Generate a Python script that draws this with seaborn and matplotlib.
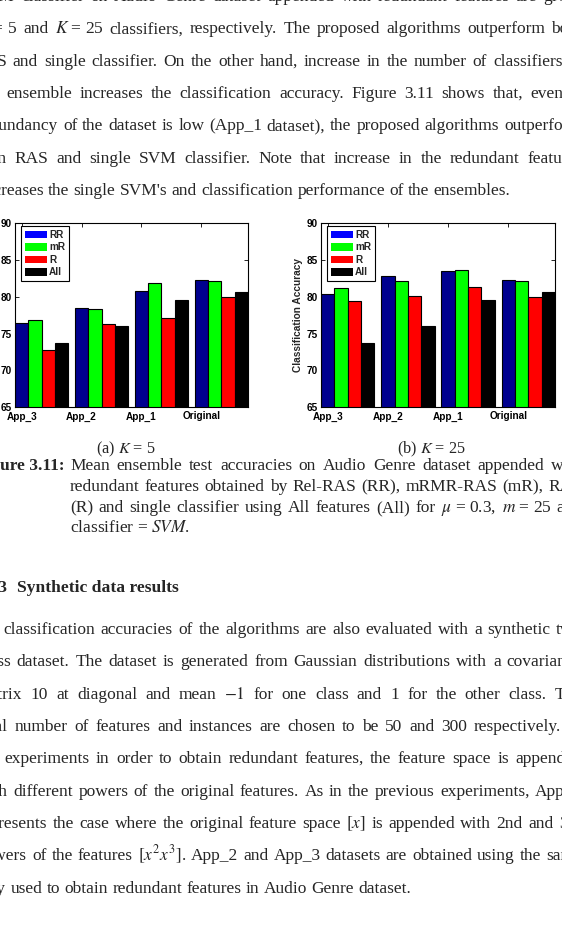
"""Figure 3.11 page crop: mean ensemble accuracies on Audio Genre (K=5 / K=25)."""

import pandas as pd
import matplotlib
matplotlib.use("Agg")
import matplotlib.pyplot as plt
import seaborn as sns
from matplotlib.patches import Patch

W, H, DPI = 562, 952, 100

datasets = ["App_3", "App_2", "App_1", "Original"]
methods = ["RR", "mR", "R", "All"]

# (a) K = 5
k5_rr = [76.4, 78.5, 80.8, 82.3]
k5_mr = [76.8, 78.4, 81.9, 82.1]
k5_r = [72.8, 76.3, 77.2, 80.0]
k5_all = [73.7, 76.05, 79.6, 80.7]

# (b) K = 25
k25_rr = [80.4, 82.9, 83.5, 82.3]
k25_mr = [81.2, 82.2, 83.6, 82.1]
k25_r = [79.4, 80.1, 81.4, 80.0]
k25_all = [73.7, 76.05, 79.6, 80.7]

y_ticks = [65, 70, 75, 80, 85, 90]

bar_colors = {"RR": "#00008f", "mR": "#00ff00", "R": "#ff0000", "All": "#000000"}
legend_colors = {"RR": "#0000ff", "mR": "#00ff00", "R": "#ff0000", "All": "#000000"}

# page text around the figure (cropped page, so lines run off both edges)
# "~" is a space that is not stretched when a line is justified
para1 = [
    "SVM classifier on Audio Genre dataset appended with redundant features are given",
    "$K$~=~5 and $K$~=~25 classifiers, respectively. The proposed algorithms outperform both",
    "RAS and single classifier. On the other hand, increase in the number of classifiers in",
    "the ensemble increases the classification accuracy. Figure 3.11 shows that, even if",
    "redundancy of the dataset is low (App_1 dataset), the proposed algorithms outperform",
    "than RAS and single SVM classifier. Note that increase in the redundant features",
    "decreases the single SVM's and classification performance of the ensembles.",
]
caption = [
    "Mean ensemble test accuracies on Audio Genre dataset appended with",
    "redundant features obtained by Rel-RAS (RR), mRMR-RAS (mR), RAS",
    "(R) and single classifier using All features (All) for $\\mu$~=~0.3, $m$~=~25 and",
    "classifier~=~$SVM$.",
]
para2 = [
    "The classification accuracies of the algorithms are also evaluated with a synthetic two",
    "class dataset. The dataset is generated from Gaussian distributions with a covariance",
    "matrix 10 at diagonal and mean $-1$ for one class and 1 for the other class. The",
    "total number of features and instances are chosen to be 50 and 300 respectively. In",
    "the experiments in order to obtain redundant features, the feature space is appended",
    "with different powers of the original features. As in the previous experiments, App_1",
    "represents the case where the original feature space $[x]$ is appended with 2nd and 3rd",
    "powers of the features $[x^2x^3]$. App_2 and App_3 datasets are obtained using the same",
    "way used to obtain redundant features in Audio Genre dataset.",
]

SERIF = "Liberation Serif"
SANS = "Liberation Sans"
BODY = 12.5
LEFT, RIGHT = -23, 582


def place_line(fig, r, line, x0, y, x1=None, size=BODY, weight="normal"):
    # justified line: first word starts at x0, last word ends at x1
    items = []
    for word in line.split(" "):
        t = fig.text(0, 0, word.replace("~", " "), fontsize=size, fontweight=weight,
                     family=SERIF, ha="left", va="baseline")
        items.append((t, t.get_window_extent(renderer=r).width))
    total = sum(w for _, w in items)
    if x1 is None or len(items) < 2:
        gap = 0.25 * size * DPI / 72
    else:
        gap = (x1 - x0 - total) / (len(items) - 1)
    x = x0
    for t, w in items:
        t.set_position((x / W, 1 - y / H))
        x += w + gap


def draw_panel(ax, rr, mr, r, al, with_ylabel):
    df = pd.DataFrame({
        "dataset": datasets * 4,
        "method": [m for m in methods for _ in datasets],
        "acc": rr + mr + r + al,
    })
    sns.barplot(data=df, x="dataset", y="acc", hue="method", order=datasets,
                hue_order=methods, palette=bar_colors, saturation=1, width=8 / 9,
                edgecolor="black", linewidth=0.8, legend=False, errorbar=None, ax=ax)
    ax.set_xlim(-4 / 9, len(datasets) - 1 + 4 / 9)
    ax.set_ylim(65, 90)
    ax.set_yticks(y_ticks)
    ax.set_yticklabels([str(v) for v in y_ticks])
    # MATLAB put the tick labels under the first bar of each group
    ax.set_xticks([i - 1 / 3 for i in range(len(datasets))])
    ax.set_xticklabels(datasets)
    ax.set_xlabel("")
    ax.set_ylabel("")
    ax.tick_params(direction="in", top=True, right=True, length=3, width=0.6,
                   labelsize=7.2, colors="black")
    ax.tick_params(axis="y", pad=2)
    ax.tick_params(axis="x", pad=3)
    for lab in ax.get_xticklabels() + ax.get_yticklabels():
        lab.set_fontweight("bold")
        lab.set_family(SANS)
    for sp in ax.spines.values():
        sp.set_visible(True)
        sp.set_color("black")
        sp.set_linewidth(0.8)
        sp.set_zorder(5)
    if with_ylabel:
        ax.set_ylabel("Classification Accuracy", fontsize=7.3, fontweight="bold",
                      family=SANS)
        ax.yaxis.set_label_coords(-0.078, 0.5)
    handles = [Patch(facecolor=legend_colors[m], edgecolor="none", label=m) for m in methods]
    ax.legend(handles=handles, loc="upper left",
              bbox_to_anchor=(6 / 233, 1 - 3 / 184), borderaxespad=0,
              prop={"family": SANS, "weight": "bold", "size": 7.2},
              handlelength=2.2, handleheight=0.8, labelspacing=0.25,
              handletextpad=0.25, borderpad=0.35, fancybox=False,
              framealpha=1, edgecolor="black")
    ax.get_legend().get_frame().set_linewidth(0.8)


def main():
    sns.set_style("ticks")
    plt.rcParams["mathtext.fontset"] = "stix"
    plt.rcParams["font.family"] = [SERIF, "DejaVu Sans"]

    fig = plt.figure(figsize=(W / DPI, H / DPI), dpi=DPI)
    fig.patch.set_facecolor("white")

    ax_a = fig.add_axes([15 / W, 1 - 407.3 / H, 233 / W, 184 / H])
    ax_b = fig.add_axes([321 / W, 1 - 407.3 / H, 234 / W, 184 / H])
    draw_panel(ax_a, k5_rr, k5_mr, k5_r, k5_all, with_ylabel=False)
    draw_panel(ax_b, k25_rr, k25_mr, k25_r, k25_all, with_ylabel=True)

    r = fig.canvas.get_renderer()

    # paragraph above the figure
    p1_start = {2: -27}
    for i, line in enumerate(para1):
        y = 1.0 + 32.35 * i
        last = i == len(para1) - 1
        place_line(fig, r, line, p1_start.get(i, LEFT), y, None if last else RIGHT)

    # sub captions
    fig.text(126 / W, 1 - 453.5 / H, "(a) $K$ = 5", fontsize=BODY - 0.8, family=SERIF,
             ha="center", va="baseline")
    fig.text(431 / W, 1 - 453.5 / H, "(b) $K$ = 25", fontsize=BODY - 0.8, family=SERIF,
             ha="center", va="baseline")

    # figure caption with hanging indent
    cap_y = [470.5, 491.3, 511.9, 532.3]
    fig.text(-24 / W, 1 - cap_y[0] / H, "Figure 3.11:", fontsize=BODY,
             fontweight="bold", family=SERIF, ha="left", va="baseline")
    for i, line in enumerate(caption):
        last = i == len(caption) - 1
        place_line(fig, r, line, 70, cap_y[i], None if last else RIGHT)

    # section heading
    fig.text(7 / W, 1 - 592.5 / H, "3.3.3", fontsize=12.6, fontweight="bold",
             family=SERIF, ha="right", va="baseline")
    fig.text(17 / W, 1 - 592.5 / H, "Synthetic data results", fontsize=12.6,
             fontweight="bold", family=SERIF, ha="left", va="baseline")

    # paragraph below
    p2_start = {0: -29}
    for i, line in enumerate(para2):
        y = 634.0 + 32.33 * i
        last = i == len(para2) - 1
        place_line(fig, r, line, p2_start.get(i, LEFT), y, None if last else RIGHT)

    fig.savefig("out.png", dpi=DPI, facecolor="white")
    plt.close(fig)


if __name__ == "__main__":
    main()
